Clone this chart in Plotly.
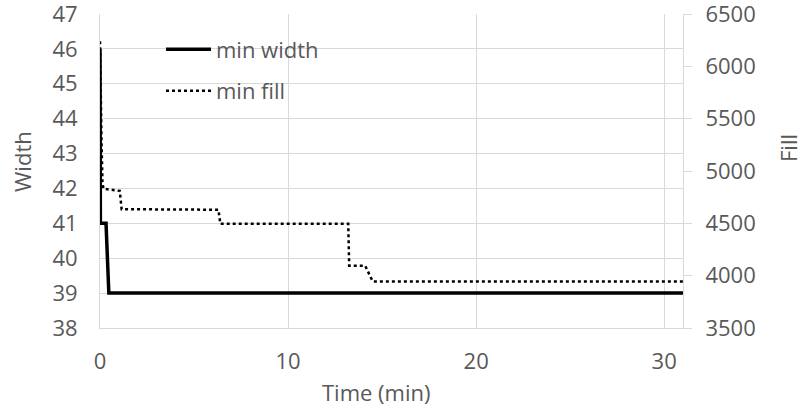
import plotly.graph_objects as go

# data
width_time = [0, 0.02, 0.32, 0.47, 31]
width_vals = [46, 41, 41, 39, 39]

fill_time = [0, 0.03, 0.08, 0.13, 0.18, 1.05, 1.15, 6.3, 6.4, 13.2, 13.25, 14.1, 14.5, 31]
fill_vals = [6240, 5750, 5300, 4900, 4830, 4810, 4635, 4630, 4495, 4495, 4095, 4095, 3945, 3945]

x_ticks = [0, 10, 20, 30]
grey = "#595959"
grid = "#d9d9d9"
font = "Open Sans"
fs = 22

fig = go.Figure()
fig.add_trace(go.Scatter(x=width_time, y=width_vals, mode="lines", name="min width",
                         line=dict(color="black", width=3.5), legendgroup="a"))
fig.add_trace(go.Scatter(x=fill_time, y=fill_vals, mode="lines", name="min fill", yaxis="y2",
                         line=dict(color="black", width=2.5, dash="dot"), legendgroup="b"))

fig.update_layout(
    width=799, height=405,
    margin=dict(l=100, r=116, t=14, b=77, autoexpand=False),
    plot_bgcolor="white", paper_bgcolor="white",
    font=dict(family=font, size=fs, color=grey),
    xaxis=dict(range=[0, 31], tickvals=x_ticks, showgrid=True, gridcolor=grid, gridwidth=1,
               showline=True, linecolor=grid, linewidth=1, ticks="", zeroline=False,
               ticklabelstandoff=14, ticklabeloverflow="allow", automargin=False),
    yaxis=dict(range=[38, 47], dtick=1, showgrid=True, gridcolor=grid, gridwidth=1,
               showline=True, linecolor=grid, ticks="", zeroline=False,
               ticklabelstandoff=17, ticklabeloverflow="allow", automargin=False),
    yaxis2=dict(range=[3500, 6500], dtick=500, overlaying="y", side="right", showgrid=False,
                showline=True, linecolor=grid, ticks="outside", tickcolor=grid, ticklen=8,
                zeroline=False, ticklabelstandoff=9, ticklabeloverflow="allow",
                automargin=False),
    legend=dict(x=0.1046, y=0.954, xanchor="left", yanchor="top", bgcolor="rgba(0,0,0,0)",
                tracegroupgap=10, itemwidth=45, font=dict(size=fs, color=grey)),
    annotations=[
        dict(text="Time (min)", xref="paper", yref="paper", x=0.475, y=-0.2038,
             xanchor="center", yanchor="middle", showarrow=False),
        dict(text="Width", xref="paper", yref="paper", x=-0.1338, y=0.532, textangle=-90,
             xanchor="center", yanchor="middle", showarrow=False),
        dict(text="Fill", xref="paper", yref="paper", x=1.180, y=0.573, textangle=-90,
             xanchor="center", yanchor="middle", showarrow=False),
    ],
)

fig.write_html("out.html", config={"displayModeBar": False},
               post_script="document.body.style.margin='0';")
